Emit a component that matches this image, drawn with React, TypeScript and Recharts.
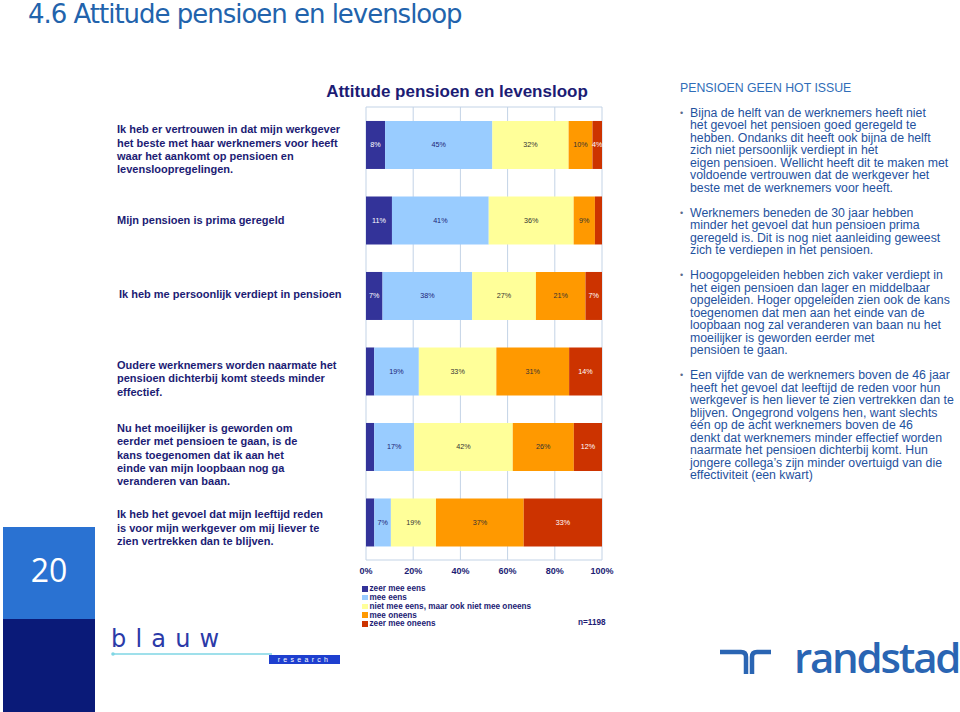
import React from 'react';
import { BarChart, Bar, XAxis, YAxis, CartesianGrid, LabelList, Legend } from 'recharts';

// ---------- data ----------
const categories = [
  'Ik heb er vertrouwen in dat mijn werkgever\nhet beste met haar werknemers voor heeft\nwaar het aankomt op pensioen en\nlevensloopregelingen.',
  'Mijn pensioen is prima geregeld',
  'Ik heb me persoonlijk verdiept in pensioen',
  'Oudere werknemers worden naarmate het\npensioen dichterbij komt steeds minder\neffectief.',
  'Nu het moeilijker is geworden om\neerder met pensioen te gaan, is de\nkans toegenomen dat ik aan het\neinde van mijn loopbaan nog ga\nveranderen van baan.',
  'Ik heb het gevoel dat mijn leeftijd reden\nis voor mijn werkgever om mij liever te\nzien vertrekken dan te blijven.',
];
const zeerMeeEens = [8, 11, 7, 3.5, 3.5, 3.5];
const meeEens = [45, 41, 38, 19, 17, 7];
const nietMeeEensNietOneens = [32, 36, 27, 33, 42, 19];
const meeOneens = [10, 9, 21, 31, 26, 37];
const zeerMeeOneens = [4, 3, 7, 14, 12, 33];
const seriesNames = [
  'zeer mee eens',
  'mee eens',
  'niet mee eens, maar ook niet mee oneens',
  'mee oneens',
  'zeer mee oneens',
];
const xTicks = [0, 0.2, 0.4, 0.6, 0.8, 1];
const sampleSize = 'n=1198';
const chartTitle = 'Attitude pensioen en levensloop';
const slideTitle = '4.6 Attitude pensioen en levensloop';
const slideNumber = '20';
const notesHeader = 'PENSIOEN GEEN HOT ISSUE';
const notes = [
  [
    'Bijna de helft van de werknemers heeft niet',
    'het gevoel het pensioen goed geregeld te',
    'hebben. Ondanks dit heeft ook bijna de helft',
    'zich niet persoonlijk verdiept in het',
    'eigen pensioen. Wellicht heeft dit te maken met',
    'voldoende vertrouwen dat de werkgever het',
    'beste met de werknemers voor heeft.',
  ],
  [
    'Werknemers beneden de 30 jaar hebben',
    'minder het gevoel dat hun pensioen prima',
    'geregeld is. Dit is nog niet aanleiding geweest',
    'zich te verdiepen in het pensioen.',
  ],
  [
    'Hoogopgeleiden hebben zich vaker verdiept in',
    'het eigen pensioen dan lager en middelbaar',
    'opgeleiden. Hoger opgeleiden zien ook de kans',
    'toegenomen dat men aan het einde van de',
    'loopbaan nog zal veranderen van baan nu het',
    'moeilijker is geworden eerder met',
    'pensioen te gaan.',
  ],
  [
    'Een vijfde van de werknemers boven de 46 jaar',
    'heeft het gevoel dat leeftijd de reden voor hun',
    'werkgever is hen liever te zien vertrekken dan te',
    'blijven. Ongegrond volgens hen, want slechts',
    'één op de acht werknemers boven de 46',
    'denkt dat werknemers minder effectief worden',
    'naarmate het pensioen dichterbij komt. Hun',
    'jongere collega’s zijn minder overtuigd van die',
    'effectiviteit (een kwart)',
  ],
];

const data = categories.map((cat, i) => ({
  cat,
  zme: zeerMeeEens[i],
  me: meeEens[i],
  neutraal: nietMeeEensNietOneens[i],
  mo: meeOneens[i],
  zmo: zeerMeeOneens[i],
}));

// ---------- style ----------
const ARIAL = '"Liberation Sans", Arial, sans-serif';
const NAVY = '#1c1c74';
const COLORS = ['#333399', '#99ccff', '#ffff99', '#ff9900', '#cc3300'];
const LABEL_COLORS = ['#ffffff', '#1c1c74', '#333333', '#333333', '#ffffff'];
const KEYS = ['zme', 'me', 'neutraal', 'mo', 'zmo'];
const GRID = '#c3d3e6';
const MARGIN = { top: 107, right: 358, bottom: 132, left: 117 };
const YAXIS_W = 249;
const CAT_DY = [4.5, -0.5, -1.5, 7, 8, 5.5];
const CAT_DX = [0, 0, 2, 0, 0, 0];
const CAT_LINE = 13.3;

const CategoryTick = (props: any) => {
  const { y, payload } = props;
  const value: string = payload?.value ?? '';
  const idx = categories.indexOf(value);
  const lines = value.split('\n');
  const n = lines.length;
  const dy = CAT_DY[idx] ?? 0;
  const x = MARGIN.left + (CAT_DX[idx] ?? 0);
  return (
    <text fontFamily={ARIAL} fontSize={11} fontWeight="bold" fill={NAVY} textAnchor="start">
      {lines.map((l, i) => (
        <tspan key={i} x={x} y={y + dy + (i - (n - 1) / 2) * CAT_LINE + 4}>
          {l}
        </tspan>
      ))}
    </text>
  );
};

const makeLabel = (color: string) => (props: any) => {
  const { x, y, width, height, value } = props;
  const v = Array.isArray(value) ? null : Number(value);
  if (v == null || isNaN(v) || v < 3.8) return null;
  return (
    <text
      x={x + width / 2}
      y={y + height / 2 + 2.5}
      textAnchor="middle"
      fill={color}
      fontSize={7.2}
      fontFamily={ARIAL}
    >
      {Math.round(v)}%
    </text>
  );
};

const LegendContent = (props: any) => {
  const payload = [...(props.payload || [])].sort(
    (a: any, b: any) => seriesNames.indexOf(a.value) - seriesNames.indexOf(b.value)
  );
  return (
    <div style={{ fontFamily: ARIAL, fontSize: 8.2, fontWeight: 'bold', color: NAVY, position: 'relative' }}>
      {payload.map((p: any, i: number) => (
        <div key={i} style={{ display: 'flex', alignItems: 'center', height: 8.75, whiteSpace: 'nowrap' }}>
          <span style={{ display: 'inline-block', width: 5.5, height: 5.5, background: p.color, marginRight: 2 }} />
          <span>{p.value}</span>
        </div>
      ))}
      <div style={{ position: 'absolute', left: 216, top: 33, whiteSpace: 'nowrap' }}>{sampleSize}</div>
    </div>
  );
};

const LogoGraphics = () => (
  <svg width={960} height={712} style={{ position: 'absolute', left: 0, top: 0, pointerEvents: 'none' }}>
    <path d="M720,652 H741 Q746,652 746,657 V674" fill="none" stroke="#2a65b3" strokeWidth={4.5} />
    <path d="M752,674 V657 Q752,652 757,652 H771" fill="none" stroke="#2a65b3" strokeWidth={4.5} />
    <line x1={113} y1={654} x2={272} y2={654} stroke="#7fd6e4" strokeWidth={1.3} />
    <circle cx={113} cy={654} r={1.8} fill="#7fd6e4" />
    <rect x={269} y={655} width={71} height={9} fill="#1e3fcf" />
    <text x={304.5} y={662} textAnchor="middle" fill="#ffffff" fontSize={7} fontFamily={ARIAL} letterSpacing={3.3}>
      research
    </text>
  </svg>
);

export default function App() {
  return (
    <div
      style={{
        position: 'absolute',
        left: 0,
        top: 0,
        width: 960,
        height: 712,
        background: '#ffffff',
        overflow: 'hidden',
        fontFamily: ARIAL,
      }}
    >
      <div
        style={{
          position: 'absolute',
          left: 28,
          top: 1,
          fontFamily: '"DejaVu Sans", Verdana, sans-serif',
          fontSize: 26,
          lineHeight: '26px',
          letterSpacing: -1.02,
          color: '#2263ac',
          whiteSpace: 'nowrap',
        }}
      >
        {slideTitle}
      </div>

      <div
        style={{
          position: 'absolute',
          left: 257,
          width: 400,
          top: 82.6,
          textAlign: 'center',
          fontSize: 17,
          lineHeight: '17px',
          fontWeight: 'bold',
          color: NAVY,
          whiteSpace: 'nowrap',
        }}
      >
        {chartTitle}
      </div>

      <div style={{ position: 'absolute', left: 0, top: 0 }}>
        <BarChart
          width={960}
          height={712}
          data={data}
          layout="vertical"
          stackOffset="expand"
          margin={MARGIN}
          barCategoryGap="18.5%"
        >
          <CartesianGrid
            stroke={GRID}
            strokeWidth={1}
            horizontalCoordinatesGenerator={(p: any) => [p.offset.top, p.offset.top + p.offset.height]}
          />
          <XAxis
            type="number"
            domain={[0, 1]}
            ticks={xTicks}
            interval={0}
            tickFormatter={(v: number) => `${Math.round(v * 100)}%`}
            axisLine={false}
            tickLine={false}
            height={20}
            tick={{ fill: NAVY, fontSize: 9, fontWeight: 'bold', fontFamily: ARIAL }}
          />
          <YAxis
            type="category"
            dataKey="cat"
            width={YAXIS_W}
            axisLine={false}
            tickLine={false}
            interval={0}
            tick={<CategoryTick />}
          />
          {KEYS.map((k, i) => (
            <Bar key={k} dataKey={k} name={seriesNames[i]} stackId="a" fill={COLORS[i]} isAnimationActive={false}>
              <LabelList dataKey={k} content={makeLabel(LABEL_COLORS[i])} />
            </Bar>
          ))}
          <Legend
            layout="vertical"
            align="center"
            verticalAlign="middle"
            content={<LegendContent />}
            wrapperStyle={{ left: 362, top: 584.6, width: 260, height: 45 }}
          />
        </BarChart>
      </div>

      <div
        style={{
          position: 'absolute',
          left: 680,
          top: 82,
          fontSize: 12.3,
          lineHeight: '12.3px',
          color: '#2f6db8',
          whiteSpace: 'nowrap',
        }}
      >
        {notesHeader}
      </div>
      {notes.map((para, pi) => {
        const tops = [106.9, 206.9, 269.4, 369.4];
        return (
          <div key={pi} style={{ position: 'absolute', left: 680, top: tops[pi], width: 280 }}>
            <div
              style={{
                position: 'absolute',
                left: 0,
                top: 0,
                fontSize: 9,
                lineHeight: '12.5px',
                color: '#5a6a8a',
              }}
            >
              •
            </div>
            {para.map((line, li) => (
              <div
                key={li}
                style={{
                  position: 'absolute',
                  left: 10,
                  top: li * 12.5,
                  fontSize: 12.3,
                  lineHeight: '12.5px',
                  color: '#1f529e',
                  whiteSpace: 'nowrap',
                }}
              >
                {line}
              </div>
            ))}
          </div>
        );
      })}

      <div style={{ position: 'absolute', left: 3, top: 527, width: 92, height: 92, background: '#2a72d2' }} />
      <div style={{ position: 'absolute', left: 3, top: 619, width: 92, height: 93, background: '#0a1a78' }} />
      <div
        style={{
          position: 'absolute',
          left: 3,
          width: 92,
          top: 554,
          textAlign: 'center',
          fontFamily: '"Open Sans", "Noto Sans", sans-serif',
          fontSize: 32,
          lineHeight: '32px',
          color: '#ffffff',
        }}
      >
        {slideNumber}
      </div>

      <div
        style={{
          position: 'absolute',
          left: 111,
          top: 626.7,
          fontFamily: '"DejaVu Sans", sans-serif',
          fontSize: 24,
          lineHeight: '24px',
          letterSpacing: 9.2,
          color: '#2b3aa8',
          whiteSpace: 'nowrap',
        }}
      >
        blauw
      </div>

      <div
        style={{
          position: 'absolute',
          left: 794,
          top: 635.7,
          fontFamily: '"Open Sans", "Noto Sans", sans-serif',
          fontSize: 42,
          lineHeight: '42px',
          fontWeight: 600,
          letterSpacing: -2.2,
          color: '#2a65b3',
          whiteSpace: 'nowrap',
        }}
      >
        randstad
      </div>
      <LogoGraphics />
    </div>
  );
}
